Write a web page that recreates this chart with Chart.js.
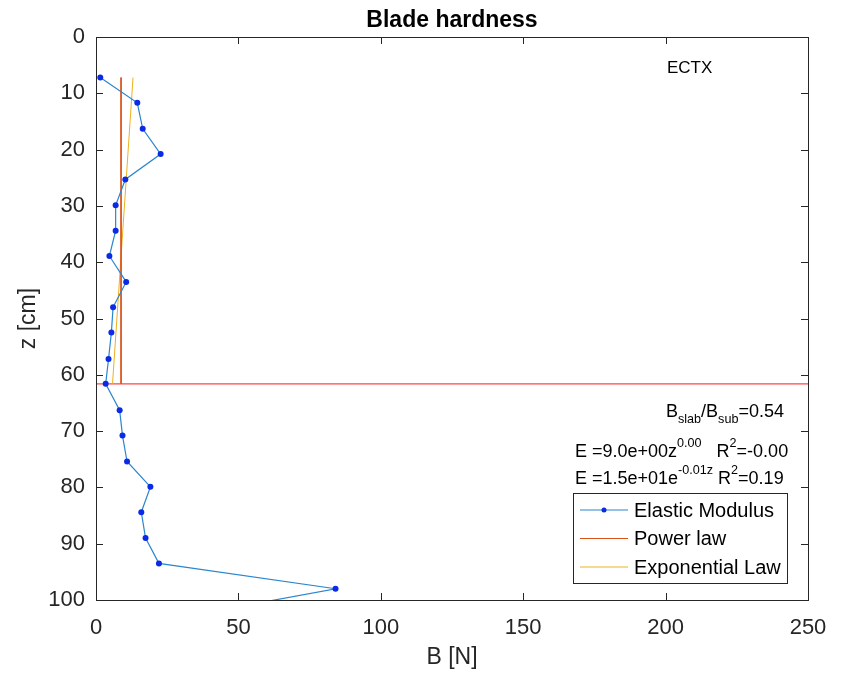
<!DOCTYPE html>
<html>
<head>
<meta charset="utf-8">
<script src="https://cdn.jsdelivr.net/npm/chart.js@4.4.0/dist/chart.umd.min.js"></script>
<style>
  html, body { margin: 0; padding: 0; background: #fff; }
  #wrap { width: 847px; height: 673px; }
</style>
</head>
<body>
<div id="wrap"><canvas id="grafico"></canvas></div>
<script>
// measured profile (depth in cm, blade hardness in N)
var depth   = [7.2, 11.7, 16.3, 20.8, 25.3, 29.9, 34.4, 38.9, 43.5, 48.0, 52.5, 57.2, 61.6, 66.3, 70.8, 75.4, 79.9, 84.4, 89.0, 93.5, 98.0, 102.5];
var modulus = [1.5, 14.5, 16.4, 22.7, 10.3, 6.9, 6.9, 4.7, 10.6, 6.0, 5.4, 4.4, 3.4, 8.3, 9.3, 10.9, 19.1, 15.9, 17.4, 22.1, 84.1, 36.0];

// fitted laws over the slab (top point to slab base)
var fitDepth   = [7.2, 61.6];
var powerFit   = [8.8, 8.8];
var expFit     = [13.0, 5.8];

// slab / substrate interface
var slabBase = 61.6;
var xRange = [0, 250];

var xTicks = [0, 50, 100, 150, 200, 250];
var yTicks = [0, 10, 20, 30, 40, 50, 60, 70, 80, 90, 100];

var FONT = "'Liberation Sans', Arial, Helvetica, sans-serif";
var AXCOL = '#262626';

function punti(xs, ys) {
    var out = [];
    for (var i = 0; i < xs.length; i++) out.push({x: xs[i], y: ys[i]});
    return out;
}

function scriviRich(ctx, x, y, parts, size) {
    var cx = x;
    parts.forEach(function(p) {
        var s = p[1] === 0 ? size : size * 0.7;
        var dy = p[1] === 1 ? -size * 0.55 : (p[1] === -1 ? size * 0.35 : 0);
        ctx.font = s + 'px ' + FONT;
        ctx.fillText(p[0], cx, y + dy);
        cx += ctx.measureText(p[0]).width;
    });
}

var matlabStyle = {
    id: 'matlabStyle',
    afterDraw: function(chart) {
        var ctx = chart.ctx;
        var a = chart.chartArea;
        var xs = chart.scales.x, ys = chart.scales.y;
        ctx.save();

        // title
        ctx.fillStyle = '#000';
        ctx.font = 'bold 23px ' + FONT;
        ctx.textAlign = 'center';
        ctx.textBaseline = 'alphabetic';
        ctx.fillText('Blade hardness', (a.left + a.right) / 2, 27);

        // box + inward ticks
        ctx.strokeStyle = AXCOL;
        ctx.lineWidth = 1;
        ctx.strokeRect(Math.round(a.left) + 0.5, Math.round(a.top) + 0.5, Math.round(a.right - a.left), Math.round(a.bottom - a.top));
        ctx.beginPath();
        xTicks.forEach(function(v) {
            var px = Math.round(xs.getPixelForValue(v)) + 0.5;
            ctx.moveTo(px, a.bottom); ctx.lineTo(px, a.bottom - 7);
            ctx.moveTo(px, a.top); ctx.lineTo(px, a.top + 7);
        });
        yTicks.forEach(function(v) {
            var py = Math.round(ys.getPixelForValue(v)) + 0.5;
            ctx.moveTo(a.left, py); ctx.lineTo(a.left + 7, py);
            ctx.moveTo(a.right, py); ctx.lineTo(a.right - 7, py);
        });
        ctx.stroke();

        // annotations
        ctx.textAlign = 'left';
        ctx.fillStyle = '#000';
        ctx.font = '17px ' + FONT;
        ctx.fillText('ECTX', 667, 73);
        scriviRich(ctx, 666, 417, [['B', 0], ['slab', -1], ['/B', 0], ['sub', -1], ['=0.54', 0]], 18);
        scriviRich(ctx, 575, 457, [['E =9.0e+00z', 0], ['0.00', 1], ['   R', 0], ['2', 1], ['=-0.00', 0]], 18);
        scriviRich(ctx, 575, 484, [['E =1.5e+01e', 0], ['-0.01z', 1], [' R', 0], ['2', 1], ['=0.19', 0]], 18);

        // legend box
        var lx = 573, ly = 493, lw = 214, lh = 90;
        ctx.fillStyle = '#fff';
        ctx.fillRect(lx, ly, lw, lh);
        ctx.strokeStyle = AXCOL;
        ctx.strokeRect(lx + 0.5, ly + 0.5, lw, lh);
        var righe = [0, 1, 2];
        ctx.font = '20px ' + FONT;
        ctx.textBaseline = 'middle';
        righe.forEach(function(di, k) {
            var ds = chart.data.datasets[di];
            var yy = 510 + k * 28.5;
            ctx.strokeStyle = ds.borderColor;
            ctx.lineWidth = ds.borderWidth;
            ctx.beginPath();
            ctx.moveTo(580, yy); ctx.lineTo(628, yy);
            ctx.stroke();
            if (ds.pointRadius > 0) {
                ctx.fillStyle = ds.pointBackgroundColor;
                ctx.beginPath();
                ctx.arc(604, yy, 2.5, 0, Math.PI * 2);
                ctx.fill();
            }
            ctx.fillStyle = '#000';
            ctx.fillText(ds.label, 634, yy + 1);
        });
        ctx.restore();
    }
};

function creaGrafico(canvas) {
    return new Chart(canvas, {
        type: 'scatter',
        data: {
            datasets: [{
                label: 'Elastic Modulus',
                data: punti(modulus, depth),
                showLine: true,
                borderColor: '#2a86cf',
                borderWidth: 1.2,
                pointRadius: 3,
                pointBackgroundColor: '#0a2ae6',
                pointBorderWidth: 0,
                order: 1
            }, {
                label: 'Power law',
                data: punti(powerFit, fitDepth),
                showLine: true,
                borderColor: '#D95319',
                borderWidth: 1,
                pointRadius: 0,
                order: 2
            }, {
                label: 'Exponential Law',
                data: punti(expFit, fitDepth),
                showLine: true,
                borderColor: '#EDB120',
                borderWidth: 1,
                pointRadius: 0,
                order: 3
            }, {
                label: 'slab base',
                data: punti(xRange, [slabBase, slabBase]),
                showLine: true,
                borderColor: '#ff4444',
                borderWidth: 1.3,
                pointRadius: 0,
                order: 4
            }]
        },
        options: {
            responsive: true,
            maintainAspectRatio: false,
            animation: false,
            layout: { padding: { top: 37, right: 39, left: 0, bottom: 0 } },
            plugins: { legend: { display: false }, tooltip: { enabled: false } },
            scales: {
                x: {
                    type: 'linear', min: 0, max: 250,
                    afterFit: function(s) { s.height = 73; },
                    afterBuildTicks: function(s) { s.ticks = xTicks.map(function(v) { return {value: v}; }); },
                    grid: { display: false, drawTicks: false },
                    border: { display: false },
                    ticks: { color: AXCOL, font: { family: FONT, size: 22 }, padding: 15, maxRotation: 0 },
                    title: { display: true, text: 'B [N]', color: AXCOL, font: { family: FONT, size: 23 }, padding: { top: 0, bottom: 2 } }
                },
                y: {
                    type: 'linear', min: 0, max: 100, reverse: true,
                    afterFit: function(s) { s.width = 96; },
                    afterBuildTicks: function(s) { s.ticks = yTicks.map(function(v) { return {value: v}; }); },
                    grid: { display: false, drawTicks: false },
                    border: { display: false },
                    ticks: { color: AXCOL, font: { family: FONT, size: 22 }, padding: 11 },
                    title: { display: true, text: 'z [cm]', color: AXCOL, font: { family: FONT, size: 23 }, padding: { top: 15, bottom: 0 } }
                }
            }
        },
        plugins: [matlabStyle]
    });
}

creaGrafico(document.getElementById('grafico'));
</script>
</body>
</html>
